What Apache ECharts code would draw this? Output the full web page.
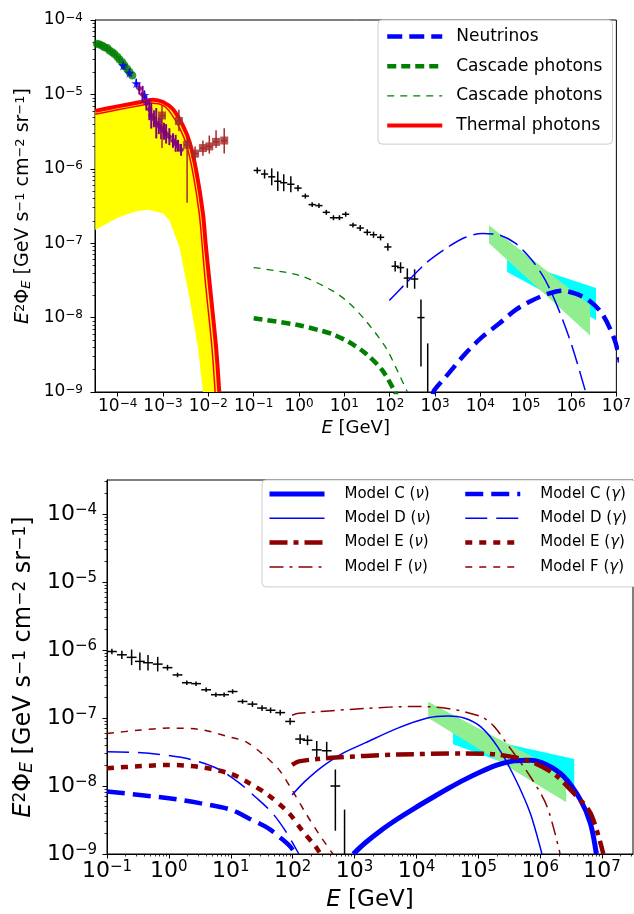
<!DOCTYPE html>
<html>
<head>
<meta charset="utf-8">
<script src="https://cdn.jsdelivr.net/npm/echarts@6/dist/echarts.min.js"></script>
<style>html,body{margin:0;padding:0;background:#fff}#main{width:634px;height:914px}</style>
</head>
<body>
<div id="main"></div>
<script>
/*---------------- data ----------------*/
// Fermi IGRB crosses, same in both panels
var fermiE = [0.12, 0.174, 0.25, 0.34, 0.46, 0.66, 0.95, 1.38, 1.95, 2.75, 4.0, 5.75, 7.8, 10.7, 15.5, 22.4, 32, 44, 63, 91, 132, 174, 245, 355];
var fermiF = [9.5e-7, 8.5e-7, 7.8e-7, 6.8e-7, 6.5e-7, 6.2e-7, 5.5e-7, 4.3e-7, 3.3e-7, 3.2e-7, 2.6e-7, 2.2e-7, 2.2e-7, 2.45e-7, 1.75e-7, 1.6e-7, 1.4e-7, 1.3e-7, 1.2e-7, 8.9e-8, 4.9e-8, 4.7e-8, 3.4e-8, 3.3e-8];
var fermiErr = [1.1, 1.15, 1.3, 1.35, 1.3, 1.28, 1.1, 1.08, 1.08, 1.08, 1.08, 1.08, 1.08, 1.08, 1.08, 1.1, 1.1, 1.1, 1.1, 1.12, 1.18, 1.18, 1.35, 1.35];
var fermiBigE = [490], fermiBigF = [1.0e-8], fermiBigLo = [2.2e-9], fermiBigHi = [1.75e-8];
var fermiLimE = [690], fermiLimF = [4.5e-9], fermiLimLo = [1e-10], fermiLimHi = [4.5e-9];

// IceCube bands
var greenBandE = [1.55e4, 2.63e6], greenBandHi = [1.74e-7, 1.48e-8], greenBandLo = [1.0e-7, 5.75e-9];
var cyanBandE = [3.9e4, 3.55e6], cyanBandHi = [6.2e-8, 2.5e-8], cyanBandLo = [4.1e-8, 9.3e-9];

// top panel: low energy data
var greenDotE = [3.1e-5, 3.5e-5, 4.0e-5, 4.6e-5, 5.1e-5, 5.9e-5, 6.6e-5, 7.6e-5, 8.5e-5, 9.8e-5, 1.1e-4, 1.26e-4, 1.41e-4, 1.62e-4, 1.82e-4, 2.1e-4];
var greenDotF = [4.9e-5, 4.8e-5, 4.7e-5, 4.5e-5, 4.3e-5, 4.2e-5, 3.9e-5, 3.7e-5, 3.5e-5, 3.2e-5, 2.95e-5, 2.7e-5, 2.45e-5, 2.2e-5, 2.0e-5, 1.8e-5];
var starE = [1.32e-4, 1.82e-4, 2.57e-4, 3.9e-4];
var starF = [2.45e-5, 1.95e-5, 1.41e-5, 9.8e-6];
var purpleE = [3.0e-4, 3.55e-4, 4.3e-4, 5.0e-4, 5.5e-4, 6.3e-4, 7.1e-4, 8.1e-4, 9.1e-4, 1.05e-3, 1.17e-3, 1.38e-3, 1.66e-3, 1.9e-3, 2.14e-3, 2.5e-3];
var purpleF = [1.2e-5, 1.0e-5, 7.6e-6, 6.3e-6, 5.2e-6, 4.7e-6, 4.1e-6, 3.8e-6, 3.5e-6, 3.2e-6, 2.95e-6, 2.7e-6, 2.4e-6, 2.2e-6, 2.04e-6, 1.8e-6];
var purpleErr = [1.2, 1.3, 1.25, 1.4, 1.5, 1.3, 1.6, 1.3, 1.4, 1.3, 1.35, 1.3, 1.25, 1.3, 1.2, 1.2];
var brownE = [9.5e-4, 2.24e-3, 3.4e-3, 5.1e-3, 7.6e-3, 1.05e-2, 1.48e-2, 2.24e-2];
var brownF = [5.2e-6, 4.4e-6, 2.1e-6, 1.6e-6, 1.9e-6, 2.0e-6, 2.3e-6, 2.4e-6];
var brownLo = [1.9e-6, 3.2e-6, 3.5e-7, 1.26e-6, 1.5e-6, 1.6e-6, 1.9e-6, 1.6e-6];
var brownHi = [7.1e-6, 6.2e-6, 2.8e-6, 2.0e-6, 2.4e-6, 2.8e-6, 3.3e-6, 3.5e-6];

// top panel: thermal photons
var thermalE = [3.2e-5, 1e-4, 3.2e-4, 6.0e-4, 1e-3, 1.66e-3, 2.75e-3, 3.9e-3, 5.5e-3, 7.6e-3, 8.7e-3, 1.05e-2, 1.48e-2, 1.74e-2];
var thermalF = [6.0e-6, 6.9e-6, 7.9e-6, 8.5e-6, 7.9e-6, 6.3e-6, 3.8e-6, 2.24e-6, 8.9e-7, 2.5e-7, 1e-7, 3.2e-8, 4.0e-9, 1e-9];
var thermal2E = [3.2e-5, 1e-4, 3.2e-4, 6.0e-4, 1e-3, 1.48e-3, 2.35e-3, 3.3e-3, 4.65e-3, 6.3e-3, 7.25e-3, 8.5e-3, 1.2e-2, 1.41e-2];
var thermal2F = [5.4e-6, 6.2e-6, 7.1e-6, 7.6e-6, 7.1e-6, 5.6e-6, 3.5e-6, 2.1e-6, 8.3e-7, 2.5e-7, 1e-7, 3.2e-8, 4.0e-9, 1e-9];
var thermalLowE = [3.2e-5, 1e-4, 2.5e-4, 5.0e-4, 1e-3, 1.38e-3, 2.3e-3, 3.8e-3, 5.9e-3, 7.6e-3];
var thermalLowF = [1.51e-7, 2.19e-7, 2.69e-7, 2.82e-7, 2.51e-7, 2.04e-7, 8.9e-8, 1.9e-8, 4.0e-9, 1e-9];

// top panel: model curves
var nuTopE = [900, 955, 2.0e3, 4.7e3, 1.1e4, 2.6e4, 5.9e4, 1.38e5, 3.2e5, 6.3e5, 1.26e6, 2.5e6, 4.9e6, 9.3e6, 1.2e7];
var nuTopF = [9.3e-10, 1.05e-9, 1.78e-9, 3.3e-9, 5.5e-9, 8.3e-9, 1.26e-8, 1.7e-8, 2.1e-8, 2.3e-8, 2.1e-8, 1.7e-8, 1.12e-8, 4.9e-9, 2.5e-9];
var nuTop2E = [98, 229, 631, 1.74e3, 4.7e3, 1.1e4, 2.6e4, 5.9e4, 1.38e5, 2.7e5, 5.4e5, 1.07e6, 2.1e6];
var nuTop2F = [1.7e-8, 2.9e-8, 5.4e-8, 8.5e-8, 1.2e-7, 1.35e-7, 1.29e-7, 1.0e-7, 5.9e-8, 3.2e-8, 1.26e-8, 4.0e-9, 1.0e-9];
var cascE = [0.1, 1.0, 2.7, 5.4, 12.6, 29.5, 69, 126, 158];
var cascF = [9.8e-9, 7.9e-9, 6.8e-9, 6.0e-9, 4.7e-9, 3.3e-9, 1.95e-9, 1.05e-9, 7.9e-10];
var casc2E = [0.1, 1.0, 5.4, 12.6, 29.5, 81, 158, 245];
var casc2F = [4.7e-8, 3.7e-8, 2.3e-8, 1.58e-8, 9.1e-9, 4.0e-9, 1.78e-9, 1.0e-9];

// bottom panel: models
var cNuE = [955, 1.48e3, 2.7e3, 5.0e3, 9.3e3, 1.74e4, 3.2e4, 5.9e4, 1.1e5, 2.04e5, 3.8e5, 6.9e5, 1.29e6, 2.4e6, 4.5e6, 6.5e6, 8.1e6];
var cNuF = [1e-9, 1.45e-9, 2.24e-9, 3.3e-9, 4.7e-9, 6.6e-9, 9.1e-9, 1.23e-8, 1.62e-8, 2.04e-8, 2.34e-8, 2.4e-8, 2.04e-8, 1.38e-8, 6.2e-9, 2.8e-9, 1e-9];
var dNuE = [98, 158, 295, 631, 1.48e3, 5.0e3, 1.51e4, 3.2e4, 5.9e4, 1.1e5, 2.04e5, 3.8e5, 6.9e5, 1.07e6];
var dNuF = [7.4e-9, 1.17e-8, 1.9e-8, 3.0e-8, 4.3e-8, 7.1e-8, 1.0e-7, 1.07e-7, 1.0e-7, 7.4e-8, 3.8e-8, 1.38e-8, 4.0e-9, 1e-9];
var eNuE = [98, 126, 427, 5.0e3, 5.9e4, 2.04e5, 6.9e5, 1.66e6, 3.5e6, 6.5e6, 1.05e7];
var eNuF = [2.04e-8, 2.3e-8, 2.6e-8, 2.9e-8, 3.0e-8, 2.9e-8, 2.3e-8, 1.51e-8, 7.8e-9, 4.0e-9, 1e-9];
var fNuE = [98, 126, 1.48e3, 9.3e3, 3.2e4, 1.1e5, 1.78e5, 2.6e5, 6.9e5, 1.29e6, 2.1e6];
var fNuF = [1.1e-7, 1.17e-7, 1.38e-7, 1.48e-7, 1.38e-7, 1.05e-7, 7.6e-8, 4.8e-8, 1.38e-8, 5.0e-9, 1e-9];
var cGaE = [0.1, 1, 3.16, 10, 20, 40, 63, 89, 112];
var cGaF = [8.3e-9, 6.6e-9, 5.6e-9, 4.5e-9, 3.3e-9, 2.4e-9, 1.74e-9, 1.32e-9, 1e-9];
var dGaE = [0.1, 0.316, 1, 2.5, 6.3, 13.5, 25, 47, 76, 126];
var dGaF = [3.2e-8, 3.1e-8, 2.8e-8, 2.4e-8, 1.78e-8, 1.12e-8, 6.9e-9, 4.0e-9, 2.2e-9, 1e-9];
var eGaE = [0.1, 0.316, 1, 3.16, 10, 20, 40, 87, 141, 234, 282];
var eGaF = [1.82e-8, 1.95e-8, 2.04e-8, 1.9e-8, 1.51e-8, 1.1e-8, 7.4e-9, 4.0e-9, 2.24e-9, 1.29e-9, 1e-9];
var fGaE = [0.1, 0.316, 1, 3.16, 10, 17.4, 32, 60, 98, 162, 263, 447];
var fGaF = [5.9e-8, 6.6e-8, 7.1e-8, 6.8e-8, 5.2e-8, 4.5e-8, 3.0e-8, 1.74e-8, 8.7e-9, 4.0e-9, 2.0e-9, 1e-9];

// tick labels
var topXTicks = [1e-4, 1e-3, 1e-2, 1e-1, 1, 10, 1e2, 1e3, 1e4, 1e5, 1e6, 1e7];
var topYTicks = [1e-9, 1e-8, 1e-7, 1e-6, 1e-5, 1e-4];
var botXTicks = [1e-1, 1, 10, 1e2, 1e3, 1e4, 1e5, 1e6, 1e7];
var botYTicks = [1e-9, 1e-8, 1e-7, 1e-6, 1e-5, 1e-4];

/*---------------- helpers ----------------*/
var FONT = 'DejaVu Sans';

function pairs(xs, ys) {
	return xs.map(function (x, i) { return [x, ys[i]]; });
}
function errData(xs, ys, lo, hi, xf) {
	return xs.map(function (x, i) { return [x, ys[i], lo[i], hi[i], xf]; });
}
function errFactor(xs, ys, f, xf) {
	return xs.map(function (x, i) { return [x, ys[i], ys[i] / f[i], ys[i] * f[i], xf]; });
}
function minorTicks(lo, hi) {
	var out = [];
	for (var e = lo; e <= hi; e++) {
		for (var k = 2; k <= 9; k++) out.push(k * Math.pow(10, e));
	}
	return out;
}
function powLabel(v) {
	var e = Math.round(Math.log10(v));
	return '{b|10}{s|' + (e < 0 ? '\u2212' + (-e) : e) + '}';
}
function tickRich(size) {
	return {
		b: { fontSize: size, fontFamily: FONT, color: '#000' },
		s: { fontSize: Math.round(size * 0.7), fontFamily: FONT, color: '#000', verticalAlign: 'top' }
	};
}
function nameRich(size) {
	var s = Math.round(size * 0.7);
	return {
		i: { fontSize: size, fontFamily: FONT, fontStyle: 'italic', color: '#000' },
		n: { fontSize: size, fontFamily: FONT, color: '#000' },
		sup: { fontSize: s, fontFamily: FONT, color: '#000', verticalAlign: 'top' },
		sub: { fontSize: s, fontFamily: FONT, fontStyle: 'italic', color: '#000', verticalAlign: 'bottom' }
	};
}
var yName = '{i|E}{sup|2}{n|\u03a6}{sub|E}{n| [GeV s}{sup|\u22121}{n| cm}{sup|\u22122}{n| sr}{sup|\u22121}{n|]}';
var xName = '{i|E}{n| [GeV]}';

function errRender(color, lw) {
	return function (params, api) {
		var x = api.value(0), y = api.value(1), lo = api.value(2), hi = api.value(3), xf = api.value(4);
		var a = api.coord([x, lo]), b = api.coord([x, hi]);
		var kids = [{ type: 'line', shape: { x1: a[0], y1: a[1], x2: b[0], y2: b[1] }, style: { stroke: color, lineWidth: lw } }];
		if (xf > 1) {
			var c = api.coord([x / xf, y]), d = api.coord([x * xf, y]);
			kids.push({ type: 'line', shape: { x1: c[0], y1: c[1], x2: d[0], y2: d[1] }, style: { stroke: color, lineWidth: lw } });
		}
		return { type: 'group', children: kids };
	};
}
function bandRender(xa, ya, xb, yb, color) {
	return function (params, api) {
		var pts = [];
		xa.forEach(function (x, i) { pts.push(api.coord([x, ya[i]])); });
		for (var i = xb.length - 1; i >= 0; i--) pts.push(api.coord([xb[i], yb[i]]));
		return { type: 'polygon', shape: { points: pts }, style: { fill: color } };
	};
}
function errSeries(g, data, color, lw, z) {
	return { type: 'custom', xAxisIndex: g.x, yAxisIndex: g.y, renderItem: errRender(color, lw), data: data, encode: { x: 0, y: 1 }, clip: true, z: z || 3, silent: true };
}
function bandSeries(g, xa, ya, xb, yb, color, z) {
	return { type: 'custom', xAxisIndex: g.x, yAxisIndex: g.y, renderItem: bandRender(xa, ya, xb, yb, color), data: [[xa[0], ya[0]]], encode: { x: 0, y: 1 }, clip: true, z: z || 1, silent: true };
}
function curve(g, name, xs, ys, color, width, dash, z) {
	return {
		type: 'line', name: name, xAxisIndex: g.x, yAxisIndex: g.y, data: pairs(xs, ys),
		symbol: 'none', smooth: 0.3, clip: true, z: z || 4,
		lineStyle: { color: color, width: width, type: dash || 'solid', cap: 'butt' },
		itemStyle: { color: color }
	};
}
function logX(grid, min, max, ticks, size, margin, gap, minor) {
	return {
		type: 'log', logBase: 10, gridIndex: grid, min: min, max: max, position: 'bottom',
		axisLine: { show: !minor, onZero: false, lineStyle: { color: '#000', width: 1 } },
		axisTick: { show: true, length: minor ? 2.5 : 4.5, lineStyle: { color: '#000', width: minor ? 0.8 : 1 }, customValues: ticks },
		axisLabel: { show: !minor, customValues: ticks, formatter: powLabel, rich: tickRich(size), margin: margin },
		splitLine: { show: false },
		name: minor ? '' : xName, nameLocation: 'middle', nameGap: gap,
		nameTextStyle: { rich: nameRich(size + 1) }
	};
}
function logY(grid, min, max, ticks, size, margin, gap, minor) {
	return {
		type: 'log', logBase: 10, gridIndex: grid, min: min, max: max, position: 'left',
		axisLine: { show: !minor, onZero: false, lineStyle: { color: '#000', width: 1 } },
		axisTick: { show: true, length: minor ? 2.5 : 4.5, lineStyle: { color: '#000', width: minor ? 0.8 : 1 }, customValues: ticks },
		axisLabel: { show: !minor, customValues: ticks, formatter: powLabel, rich: tickRich(size), margin: margin },
		splitLine: { show: false },
		name: minor ? '' : yName, nameLocation: 'middle', nameGap: gap,
		nameTextStyle: { rich: nameRich(size + 2) }
	};
}

var TOP = { x: 0, y: 0 }, BOT = { x: 1, y: 2 };
// legend handles: only the line, never a marker
var legendLine = { width: 'inherit' };
var legendNoMark = { opacity: 0, borderWidth: 0 };

/*---------------- chart ----------------*/
var chart = echarts.init(document.getElementById('main'), null, { renderer: 'canvas' });
chart.setOption({
	animation: false,
	backgroundColor: '#fff',
	grid: [
		{ left: 95, top: 20, width: 523, height: 372, show: true, borderColor: '#000', borderWidth: 1 },
		{ left: 107, top: 480, width: 526, height: 374, show: true, borderColor: '#000', borderWidth: 1 }
	],
	xAxis: [
		logX(0, Math.pow(10, -4.5), 1e7, topXTicks, 17, 6, 27, false),
		logX(1, 0.1, Math.pow(10, 7.5), botXTicks, 22, 6, 35, false),
		logX(1, 0.1, Math.pow(10, 7.5), minorTicks(-1, 7), 22, 6, 35, true)
	],
	yAxis: [
		logY(0, 1e-9, 1e-4, topYTicks, 17, 12, 60, false),
		logY(0, 1e-9, 1e-4, minorTicks(-9, -5), 17, 12, 60, true),
		logY(1, 1e-9, Math.pow(10, -3.5), botYTicks, 22, 10, 70, false),
		logY(1, 1e-9, Math.pow(10, -3.5), minorTicks(-9, -4), 22, 10, 70, true)
	],
	legend: [{
		left: 378, top: 20, orient: 'vertical',
		itemWidth: 55, itemHeight: 14, itemGap: 12.7,
		padding: [8, 10, 10, 7],
		backgroundColor: '#fff', borderColor: '#ccc', borderWidth: 1, borderRadius: 4,
		lineStyle: legendLine, itemStyle: legendNoMark,
		textStyle: { fontFamily: FONT, fontSize: 17, color: '#000', padding: [0, 0, 0, 9] },
		formatter: function (n) { return n.replace(' (thin)', ''); },
		data: ['Neutrinos', 'Cascade photons', 'Cascade photons (thin)', 'Thermal photons']
	}, {
		left: 262, top: 480, orient: 'vertical',
		itemWidth: 55, itemHeight: 14, itemGap: 9.3,
		padding: [6.5, 205, 12.5, 5],
		backgroundColor: '#fff', borderColor: '#ccc', borderWidth: 1, borderRadius: 4,
		lineStyle: legendLine, itemStyle: legendNoMark,
		textStyle: { fontFamily: FONT, fontSize: 15, color: '#000', padding: [0, 0, 0, 15],
			rich: { g: { fontFamily: FONT, fontSize: 15, fontStyle: 'italic', color: '#000' } } },
		formatter: function (n) { return n.replace(/\((.)\)/, '({g|$1})'); },
		data: ['Model C (\u03bd)', 'Model D (\u03bd)', 'Model E (\u03bd)', 'Model F (\u03bd)']
	}, {
		left: 463, top: 480, orient: 'vertical',
		itemWidth: 55, itemHeight: 14, itemGap: 9.3,
		padding: [6.5, 0, 12.5, 0],
		lineStyle: legendLine, itemStyle: legendNoMark,
		textStyle: { fontFamily: FONT, fontSize: 15, color: '#000', padding: [0, 0, 0, 15],
			rich: { g: { fontFamily: FONT, fontSize: 15, fontStyle: 'italic', color: '#000' } } },
		formatter: function (n) { return n.replace(/\((.)\)/, '({g|$1})'); },
		data: ['Model C (\u03b3)', 'Model D (\u03b3)', 'Model E (\u03b3)', 'Model F (\u03b3)']
	}],
	series: [
		/* ---- top panel ---- */
		bandSeries(TOP, thermalE, thermalF, thermalLowE, thermalLowF, '#ffff00', 1),
		curve(TOP, 'Thermal photons', thermalE, thermalF, '#ff0000', 4, 'solid', 2),
		curve(TOP, 'thermal inner', thermal2E, thermal2F, '#ff0000', 1.5, 'solid', 2),
		bandSeries(TOP, cyanBandE, cyanBandHi, cyanBandE, cyanBandLo, '#00ffff', 1),
		bandSeries(TOP, greenBandE, greenBandHi, greenBandE, greenBandLo, '#90ee90', 1),
		errSeries(TOP, errFactor(fermiE, fermiF, fermiErr, 1.2), '#000', 1.5),
		errSeries(TOP, errData(fermiBigE, fermiBigF, fermiBigLo, fermiBigHi, 1.2), '#000', 1.5),
		errSeries(TOP, errData(fermiLimE, fermiLimF, fermiLimLo, fermiLimHi, 1), '#000', 1.5),
		curve(TOP, 'Neutrinos', nuTopE, nuTopF, '#0000ff', 4.5, [15, 7]),
		curve(TOP, 'nu thin', nuTop2E, nuTop2F, '#0000ff', 1.5, [20, 7]),
		curve(TOP, 'Cascade photons', cascE, cascF, '#008000', 4.5, [9, 5]),
		curve(TOP, 'Cascade photons (thin)', casc2E, casc2F, '#008000', 1.3, [7, 6]),
		{ type: 'scatter', xAxisIndex: 0, yAxisIndex: 0, data: pairs(greenDotE, greenDotF), symbol: 'circle', symbolSize: 8, itemStyle: { color: '#008000' }, z: 5, silent: true },
		errSeries(TOP, errFactor(starE, starF, [1.15, 1.15, 1.15, 1.15], 1.1), '#0000ff', 1.5, 5),
		{ type: 'scatter', xAxisIndex: 0, yAxisIndex: 0, data: pairs(starE, starF), symbol: 'path://M50,0 L61,35 98,35 68,57 79,91 50,70 21,91 32,57 2,35 39,35 Z', symbolSize: 10, itemStyle: { color: '#0000ff' }, z: 6, silent: true },
		errSeries(TOP, errFactor(purpleE, purpleF, purpleErr, 1.06), '#800080', 2, 5),
		{ type: 'scatter', xAxisIndex: 0, yAxisIndex: 0, data: pairs(purpleE, purpleF), symbol: 'diamond', symbolSize: 7, itemStyle: { color: '#800080' }, z: 6, silent: true },
		errSeries(TOP, errData(brownE, brownF, brownLo, brownHi, 1.17), '#a52a2a', 1.5, 5),
		{ type: 'scatter', xAxisIndex: 0, yAxisIndex: 0, data: pairs(brownE, brownF), symbol: 'rect', symbolSize: 8, itemStyle: { color: '#a52a2a' }, z: 6, silent: true },

		/* ---- bottom panel ---- */
		bandSeries(BOT, cyanBandE, cyanBandHi, cyanBandE, cyanBandLo, '#00ffff', 1),
		bandSeries(BOT, greenBandE, greenBandHi, greenBandE, greenBandLo, '#90ee90', 1),
		errSeries(BOT, errFactor(fermiE, fermiF, fermiErr, 1.2), '#000', 1.5),
		errSeries(BOT, errData(fermiBigE, fermiBigF, fermiBigLo, fermiBigHi, 1.2), '#000', 1.5),
		errSeries(BOT, errData(fermiLimE, fermiLimF, fermiLimLo, fermiLimHi, 1), '#000', 1.5),
		curve(BOT, 'Model C (\u03bd)', cNuE, cNuF, '#0000ff', 5, 'solid'),
		curve(BOT, 'Model D (\u03bd)', dNuE, dNuF, '#0000ff', 1.5, 'solid'),
		curve(BOT, 'Model E (\u03bd)', eNuE, eNuF, '#8b0000', 4.5, [18, 6, 5, 6]),
		curve(BOT, 'Model F (\u03bd)', fNuE, fNuF, '#8b0000', 1.5, [14, 6, 3, 6]),
		curve(BOT, 'Model C (\u03b3)', cGaE, cGaF, '#0000ff', 4.5, [18, 8]),
		curve(BOT, 'Model D (\u03b3)', dGaE, dGaF, '#0000ff', 1.5, [22, 9]),
		curve(BOT, 'Model E (\u03b3)', eGaE, eGaF, '#8b0000', 4.5, [7, 7]),
		curve(BOT, 'Model F (\u03b3)', fGaE, fGaF, '#8b0000', 1.5, [7, 7])
	]
});
</script>
</body>
</html>
